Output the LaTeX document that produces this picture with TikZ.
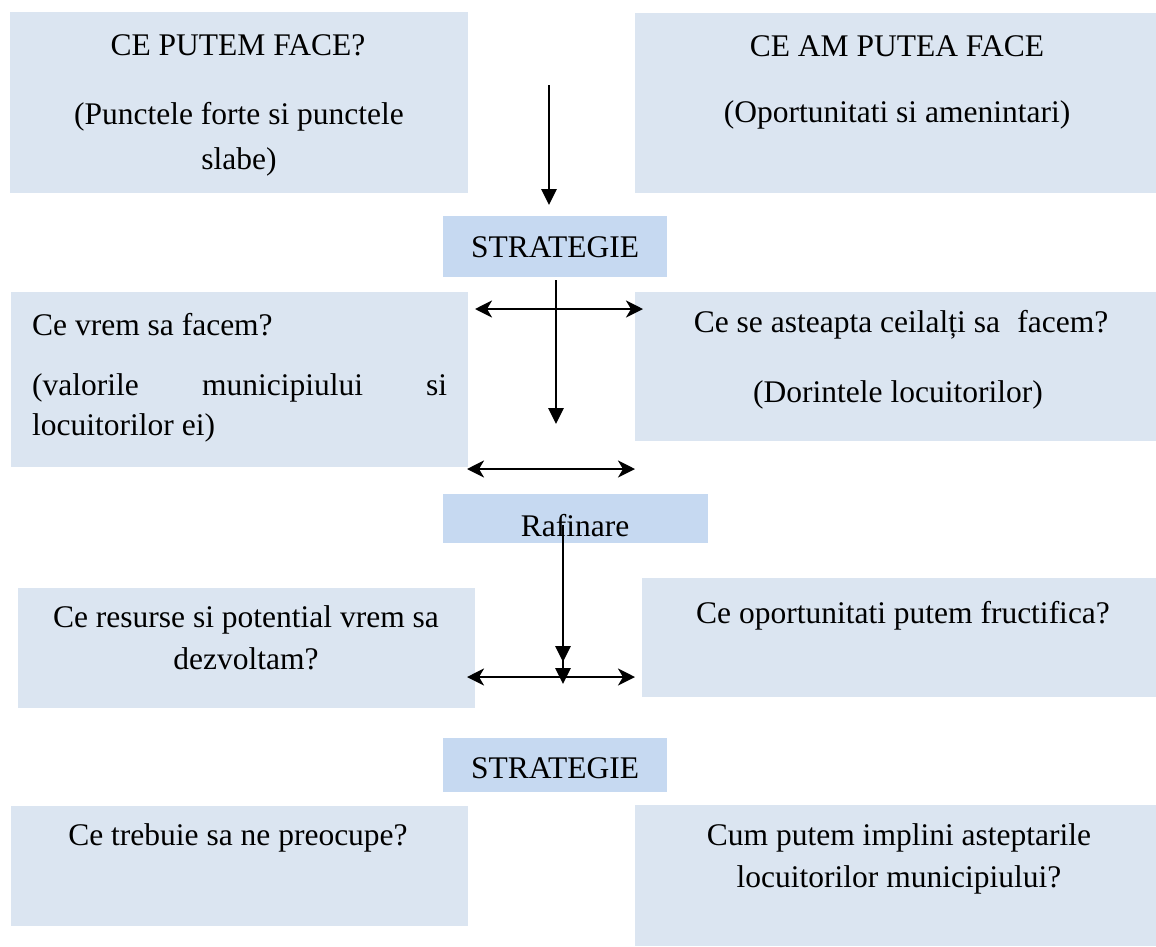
\documentclass[tikz,border=0pt]{standalone}
\usepackage{fontspec}
\setmainfont{Liberation Serif}
\usetikzlibrary{arrows.meta}
\definecolor{boxblue}{HTML}{DBE5F1}
\definecolor{midblue}{HTML}{C6D9F1}
\tikzset{
  box/.style={fill=boxblue, draw=none, anchor=north west, inner sep=0pt, outer sep=0pt},
  cbox/.style={fill=midblue, draw=none, anchor=north west, inner sep=0pt, outer sep=0pt},
  txt/.style={anchor=base, inner sep=0pt, font=\fontsize{31.5}{40}\selectfont},
  ltxt/.style={anchor=base west, inner sep=0pt, font=\fontsize{31.5}{40}\selectfont},
  conn/.style={line width=2.7pt, -{Triangle[length=16pt,width=15pt]}},
  dbl/.style={line width=2.7pt, {Stealth[length=17pt,width=17pt,inset=5pt]}-{Stealth[length=17pt,width=17pt,inset=5pt]}}
}
\newcommand\mkbox[6]{\node[#1, minimum width=#5pt-#3pt, minimum height=#6pt-#4pt] (#2) at (#3,#4) {};}
\begin{document}
\begin{tikzpicture}[x=1pt,y=-1pt]
\useasboundingbox (0,0) rectangle (1156,946);
% boxes
\mkbox{box}{b1}{10}{12}{468}{193}
\mkbox{box}{b2}{635}{13}{1156}{193}
\mkbox{cbox}{s1}{443}{216}{667}{277}
\mkbox{box}{b3}{11}{292}{468}{467}
\mkbox{box}{b4}{635}{292}{1156}{441}
\mkbox{cbox}{r}{443}{494}{708}{543}
\mkbox{box}{b5}{18}{588}{475}{708}
\mkbox{box}{b6}{642}{578}{1156}{697}
\mkbox{cbox}{s2}{443}{738}{667}{792}
\mkbox{box}{b7}{11}{806}{468}{926}
\mkbox{box}{b8}{635}{805}{1156}{946}
% texts
\node[txt] (t1a) at (238,55) {CE PUTEM FACE?};
\node[txt] (t1b) at (239,124) {(Punctele forte si punctele};
\node[txt] (t1c) at (239,169) {slabe)};
\node[txt] (t2a) at (897,56) {CE AM PUTEA FACE};
\node[txt] (t2b) at (897,122) {(Oportunitati si amenintari)};
\node[txt] (ts1) at (555,257) {STRATEGIE};
\node[ltxt] (t3a) at (32,335) {Ce vrem sa facem?};
\node[ltxt] (t3b) at (32,395) {\hbox to 415pt{(valorile\hfill municipiului\hfill si}};
\node[ltxt] (t3c) at (32,435) {locuitorilor ei)};
\node[txt] (t4a) at (901,332) {Ce se asteapta ceilalți sa\hspace{0.55em}facem?};
\node[txt] (t4b) at (898,402) {(Dorintele locuitorilor)};
\node[txt] (tr) at (575,536) {Rafinare};
\node[txt] (t5a) at (246,627) {Ce resurse si potential vrem sa};
\node[txt] (t5b) at (246,669) {dezvoltam?};
\node[txt] (t6a) at (903,623) {Ce oportunitati putem fructifica?};
\node[txt] (ts2) at (555,778) {STRATEGIE};
\node[txt] (t7a) at (238,845) {Ce trebuie sa ne preocupe?};
\node[txt] (t8a) at (899,845) {Cum putem implini asteptarile};
\node[txt] (t8b) at (899,887) {locuitorilor municipiului?};
% connector end points
\coordinate (a1s) at (549,85);
\coordinate (a1e) at (549,205);
\coordinate (a2s) at (556,280);
\coordinate (a2e) at (556,424);
\coordinate (h1l) at (475,309);
\coordinate (h1r) at (643,309);
\coordinate (h2l) at (467,469);
\coordinate (h2r) at (635,469);
\coordinate (a5s) at (563,525);
\coordinate (a5e) at (563,662);
\coordinate (a6s) at (563,613);
\coordinate (a6e) at (563,684);
\coordinate (h3l) at (467,677);
\coordinate (h3r) at (635,677);
% connectors
\draw[conn] (a1s) -- (a1e);
\draw[conn] (a2s) -- (a2e);
\draw[dbl] (h1l) -- (h1r);
\draw[dbl] (h2l) -- (h2r);
\draw[dbl] (h3l) -- (h3r);
\draw[conn] (a5s) -- (a5e);
\draw[conn] (a6s) -- (a6e);
\end{tikzpicture}
\end{document}
